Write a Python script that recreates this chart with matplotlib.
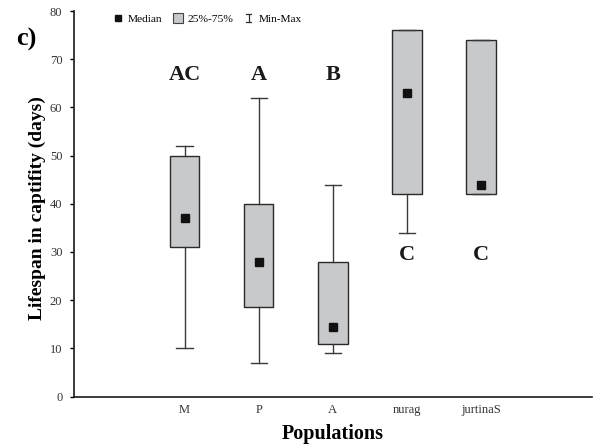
import matplotlib
matplotlib.use("Agg")
import matplotlib.pyplot as plt
from matplotlib.lines import Line2D
from matplotlib.patches import Patch
from matplotlib.legend_handler import HandlerBase

plt.rcParams['font.family'] = ['Liberation Serif', 'DejaVu Serif']

# ---- data ----
populations = ["M", "P", "A", "nurag", "jurtinaS"]
medians = [37, 28, 14.5, 63, 44]
q1 = [31, 18.5, 11, 42, 42]
q3 = [50, 40, 28, 76, 74]
mins = [10, 7, 9, 34, 42]
maxs = [52, 62, 44, 76, 74]
groups = ["AC", "A", "B", "C", "C"]
group_above = [True, True, True, False, False]
y_ticks = [0, 10, 20, 30, 40, 50, 60, 70, 80]

positions = list(range(1, len(populations) + 1))


class HandlerIBeam(HandlerBase):
    def create_artists(self, legend, orig_handle, xdescent, ydescent, width,
                       height, fontsize, trans):
        cx = width / 2 - xdescent
        y0 = -ydescent + height * 0.05
        y1 = -ydescent + height * 0.95
        hw = width * 0.28
        kw = dict(color='#333333', linewidth=0.9, transform=trans)
        return [Line2D([cx, cx], [y0, y1], **kw),
                Line2D([cx - hw, cx + hw], [y0, y0], **kw),
                Line2D([cx - hw, cx + hw], [y1, y1], **kw)]


fig = plt.figure(figsize=(5.97, 4.48), dpi=100)
ax = fig.add_axes([73.5 / 597, 1 - 396.6 / 448, 518.5 / 597, 385.6 / 448])

stats = []
for i, name in enumerate(populations):
    stats.append(dict(label=name, med=medians[i], q1=q1[i], q3=q3[i],
                      whislo=mins[i], whishi=maxs[i], mean=medians[i], fliers=[]))

ax.bxp(stats, positions=positions, widths=0.4, patch_artist=True,
       showmeans=True, showfliers=False,
       boxprops=dict(facecolor='#c8c9cb', edgecolor='#2a2a2a', linewidth=1.0),
       whiskerprops=dict(color='#3a3a3a', linewidth=1.0),
       capprops=dict(color='#3a3a3a', linewidth=1.0),
       capwidths=0.22,
       medianprops=dict(linestyle='none', linewidth=0),
       meanprops=dict(marker='s', markerfacecolor='#111111', markeredgecolor='#111111',
                      markersize=5.5))

# group letters
for p, g, above in zip(positions, groups, group_above):
    yv = 66.7 if above else 29.4
    ax.text(p, yv, g, ha='center', va='center', fontsize=16, fontweight='bold',
            color='#1a1a1a')

ax.set_xlim(-0.5, 6.5)
ax.set_ylim(0, 80)
ax.set_yticks(y_ticks)
ax.set_yticklabels([str(t) for t in y_ticks])
ax.set_xticks(positions)
ax.set_xticklabels(populations)

for s in ['top', 'right']:
    ax.spines[s].set_visible(False)
for s in ['left', 'bottom']:
    ax.spines[s].set_linewidth(1.2)
    ax.spines[s].set_color('#1a1a1a')

ax.tick_params(axis='y', direction='out', length=3, width=1.0, pad=5,
               labelsize=9, labelcolor='#333333')
ax.tick_params(axis='x', length=0, pad=5, labelsize=9, labelcolor='#333333')

ax.set_ylabel("Lifespan in captifity (days)", fontsize=14, fontweight='bold')
ax.yaxis.set_label_coords(-0.053, 0.49)
ax.set_xlabel("Populations", fontsize=14.5, fontweight='bold', labelpad=6)

fig.text(16 / 597, 1 - 39 / 448, "c)", fontsize=19, fontweight='bold',
         ha='left', va='center')

ibeam = object()
handles = [
    Line2D([], [], linestyle='none', marker='s', markersize=5,
           markerfacecolor='#111111', markeredgecolor='#111111'),
    Patch(facecolor='#c8c9cb', edgecolor='#444444', linewidth=0.8),
    ibeam,
]
leg = ax.legend(handles, ["Median", "25%-75%", "Min-Max"], ncol=3, frameon=False,
                loc='center left', bbox_to_anchor=(113 / 597, 1 - 18.6 / 448),
                bbox_transform=fig.transFigure, fontsize=8.2,
                handlelength=0.9, handleheight=0.9, handletextpad=0.4,
                columnspacing=0.9, borderaxespad=0, borderpad=0,
                handler_map={ibeam: HandlerIBeam()})

fig.savefig("out.png", dpi=100)
